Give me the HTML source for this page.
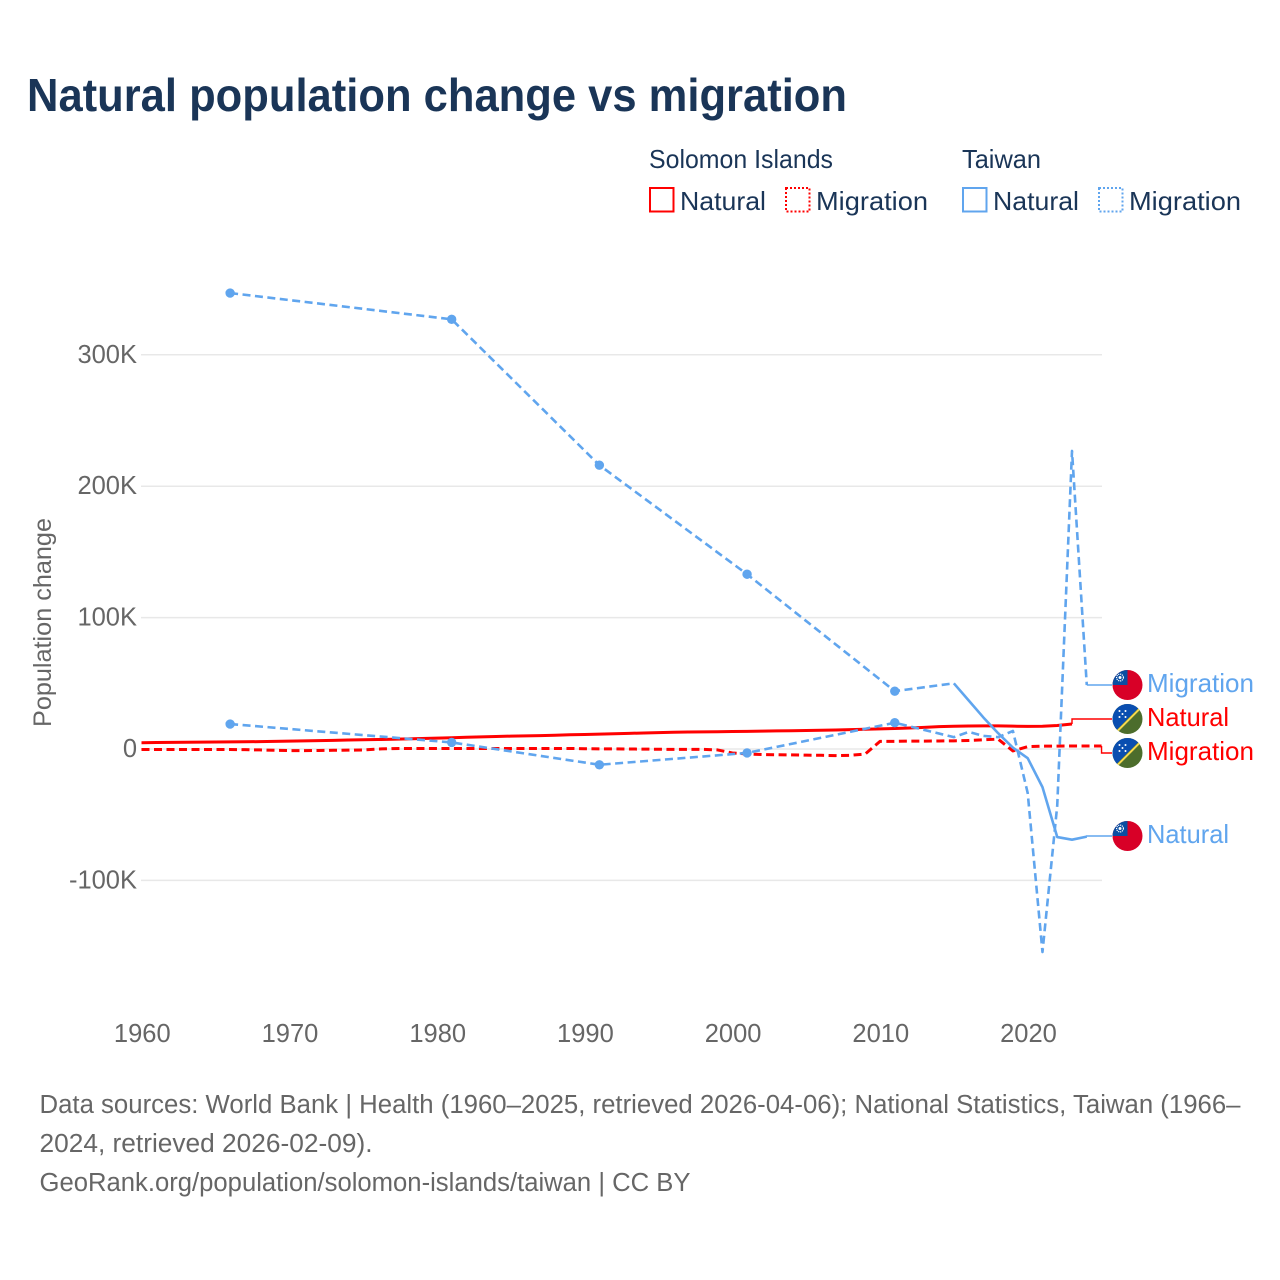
<!DOCTYPE html>
<html>
<head>
<meta charset="utf-8">
<title>Natural population change vs migration</title>
<style>
html,body{margin:0;padding:0;background:#fff;width:1280px;height:1280px;overflow:hidden}
svg{display:block}
text{font-family:"Liberation Sans",sans-serif}
</style>
</head>
<body>
<svg id="chart" xmlns="http://www.w3.org/2000/svg" width="1280" height="1280" viewBox="0 0 1280 1280">
  <defs>
    <clipPath id="flag-clip"><circle cx="0" cy="0" r="15"/></clipPath>
    <g id="flag-taiwan" clip-path="url(#flag-clip)">
      <rect x="-15" y="-15" width="30" height="30" fill="#d80027"/>
      <rect x="-15" y="-15" width="15" height="15" fill="#0a4ea2"/>
      <circle cx="-7.5" cy="-7.5" r="3.4" fill="none" stroke="#fff" stroke-width="1.2" stroke-dasharray="1.2 0.8"/>
      <circle cx="-7.5" cy="-7.5" r="1.5" fill="#fff"/>
    </g>
    <g id="flag-solomon" clip-path="url(#flag-clip)">
      <rect x="-15" y="-15" width="30" height="30" fill="#4c6d2c"/>
      <polygon points="-15,-15 15,-15 -15,15" fill="#0a4eb0"/>
      <line x1="-13" y1="15" x2="15" y2="-13" stroke="#f5d94e" stroke-width="2"/>
      <circle cx="-8" cy="-8" r="1" fill="#fff"/>
      <circle cx="-2" cy="-8" r="1" fill="#fff"/>
      <circle cx="-5" cy="-5" r="1" fill="#fff"/>
      <circle cx="-8" cy="-2" r="1" fill="#fff"/>
      <circle cx="-2" cy="-2" r="1" fill="#fff"/>
    </g>
  </defs>

  <text x="27" y="111" font-size="46" font-weight="700" fill="#1a3557" textLength="820" lengthAdjust="spacingAndGlyphs">Natural population change vs migration</text>

  <g font-size="26" fill="#1a3557">
    <text x="649" y="168" textLength="184" lengthAdjust="spacingAndGlyphs">Solomon Islands</text>
    <text x="962" y="168" textLength="79" lengthAdjust="spacingAndGlyphs">Taiwan</text>
    <g>
      <rect x="650" y="188" width="23.5" height="23.5" fill="none" stroke="#ff0000" stroke-width="2"/>
      <text x="680" y="210" textLength="86" lengthAdjust="spacingAndGlyphs">Natural</text>
    </g>
    <g>
      <rect x="786" y="188" width="23.5" height="23.5" fill="none" stroke="#ff0000" stroke-width="2" stroke-dasharray="2 2"/>
      <text x="816" y="210" textLength="112" lengthAdjust="spacingAndGlyphs">Migration</text>
    </g>
    <g>
      <rect x="963" y="188" width="23.5" height="23.5" fill="none" stroke="#60a5ee" stroke-width="2"/>
      <text x="993" y="210" textLength="86" lengthAdjust="spacingAndGlyphs">Natural</text>
    </g>
    <g>
      <rect x="1099" y="188" width="23.5" height="23.5" fill="none" stroke="#60a5ee" stroke-width="2" stroke-dasharray="2 2"/>
      <text x="1129" y="210" textLength="112" lengthAdjust="spacingAndGlyphs">Migration</text>
    </g>
  </g>

  <text transform="translate(51,622.5) rotate(-90)" text-anchor="middle" font-size="25" fill="#666666" textLength="209" lengthAdjust="spacingAndGlyphs">Population change</text>

  <g id="grid-layer"></g>
  <g id="tick-layer"></g>
  <g id="series-layer"></g>

  <g font-size="26">
    <use href="#flag-taiwan" x="1127.5" y="685"/>
    <text x="1147" y="692" fill="#60a5ee" textLength="107" lengthAdjust="spacingAndGlyphs">Migration</text>
    <use href="#flag-solomon" x="1127.5" y="719"/>
    <text x="1147" y="726" fill="#ff0000" textLength="82" lengthAdjust="spacingAndGlyphs">Natural</text>
    <use href="#flag-solomon" x="1127.5" y="753"/>
    <text x="1147" y="760" fill="#ff0000" textLength="107" lengthAdjust="spacingAndGlyphs">Migration</text>
    <use href="#flag-taiwan" x="1127.5" y="836"/>
    <text x="1147" y="843" fill="#60a5ee" textLength="82" lengthAdjust="spacingAndGlyphs">Natural</text>
  </g>

  <g font-size="25.5" fill="#666666">
    <text x="39.5" y="1113" textLength="1201" lengthAdjust="spacingAndGlyphs">Data sources: World Bank | Health (1960–2025, retrieved 2026-04-06); National Statistics, Taiwan (1966–</text>
    <text x="39.5" y="1152" textLength="333" lengthAdjust="spacingAndGlyphs">2024, retrieved 2026-02-09).</text>
    <text x="39.5" y="1191" textLength="651" lengthAdjust="spacingAndGlyphs">GeoRank.org/population/solomon-islands/taiwan | CC BY</text>
  </g>
</svg>
<script>
const xTicks = [1960, 1970, 1980, 1990, 2000, 2010, 2020];
const yTicks = [-100, 0, 100, 200, 300];
const yTickLabels = ['-100K', '0', '100K', '200K', '300K'];

const solomonStartYear = 1960;
const solomonNatural = [
  4.8,4.9,5.0,5.1,5.2,5.3,5.4,5.5,5.6,5.8,
  6.0,6.2,6.4,6.6,6.8,7.0,7.2,7.4,7.7,8.0,
  8.3,8.6,8.9,9.2,9.5,9.8,10.0,10.2,10.5,10.8,
  11.0,11.3,11.6,11.9,12.2,12.5,12.7,12.9,13.0,13.1,
  13.3,13.4,13.6,13.8,13.9,14.1,14.3,14.5,14.7,15.0,
  15.3,15.6,16.0,16.5,17.0,17.3,17.5,17.6,17.6,17.4,
  17.2,17.3,17.9,19.0
];
const solomonMigration = [
  -0.4,-0.4,-0.4,-0.4,-0.4,-0.4,-0.4,-0.5,-0.7,-1.0,
  -1.2,-1.2,-1.1,-1.0,-0.9,-0.7,0.0,0.3,0.4,0.4,
  0.4,0.4,0.4,0.4,0.4,0.4,0.4,0.4,0.4,0.4,
  0.2,0.1,0.1,0.0,-0.1,-0.2,-0.3,-0.3,-0.3,-0.7,
  -3.0,-3.8,-4.2,-4.4,-4.5,-4.7,-4.8,-5.0,-4.8,-3.8,
  5.8,5.8,6.0,6.0,6.1,6.2,6.5,7.0,7.5,-1.5,
  1.8,2.2,2.2,2.3,2.3,2.3
];
const taiwanYears = [1966,1981,1991,2001,2011,2015,2016,2017,2018,2019,2020,2021,2022,2023,2024];
const taiwanNatural = [347,327,216,133,44,50,37,24,12,1,-7,-29,-67,-69,-66.7];
const taiwanMigration = [19,5,-12,-3,20,9,13,10,9,13.7,-33.5,-154.5,-43,226.8,48.7];

const labelY = {taiwanMigration: 685, solomonNatural: 719, solomonMigration: 753, taiwanNatural: 836};

const NS = 'http://www.w3.org/2000/svg';
const RED = '#ff0000';
const BLUE = '#60a5ee';
const DASH = '8 4.5';
const LABEL_X = 1112;

function xScale(year) { return 141.5 + (year - 1960) * 14.77; }
function yScale(k) { return 749 - k * 1.314; }

function make(tag, attrs, parent) {
  const el = document.createElementNS(NS, tag);
  for (const key in attrs) el.setAttribute(key, attrs[key]);
  parent.appendChild(el);
  return el;
}
function seq(start, n) {
  const out = [];
  for (let i = 0; i < n; i++) out.push(start + i);
  return out;
}
function pathFrom(pts) {
  return pts.map((p, i) => (i ? 'L' : 'M') + xScale(p[0]).toFixed(2) + ' ' + yScale(p[1]).toFixed(2)).join(' ');
}

const gridLayer = document.getElementById('grid-layer');
const tickLayer = document.getElementById('tick-layer');
const seriesLayer = document.getElementById('series-layer');

yTicks.forEach((t, i) => {
  const line = make('line', {x1: 141, x2: 1102, y1: yScale(t), y2: yScale(t), stroke: '#e8e8e8', 'stroke-width': 1.5}, gridLayer);
  
  
  const label = make('text', {x: 137, y: yScale(t) + 8, 'text-anchor': 'end', 'font-size': 25.5, fill: '#666666'}, tickLayer);
  
  
  label.textContent = yTickLabels[i];
});
xTicks.forEach(t => {
  const label = make('text', {x: xScale(t) + 0.8, y: 1042, 'text-anchor': 'middle', 'font-size': 25.5, fill: '#666666'}, tickLayer);
  
  
  label.textContent = String(t);
});

function drawSeries(name, years, values, color, width, alwaysDashed, endLabelY) {
  const group = make('g', {}, seriesLayer);
  
  
  const pts = years.map((y, i) => [y, values[i]]);
  let run = [pts[0]];
  let runDashed = alwaysDashed || (pts[1][0] - pts[0][0] > 1);
  function flush() {
    const path = make('path', {d: pathFrom(run), fill: 'none', stroke: color, 'stroke-width': width, 'stroke-linejoin': 'round'}, group);
    
    
    if (runDashed) path.setAttribute('stroke-dasharray', DASH);
  }
  for (let i = 1; i < pts.length; i++) {
    const dashed = alwaysDashed || (pts[i][0] - pts[i - 1][0] > 1);
    if (dashed !== runDashed) {
      flush();
      run = [pts[i - 1]];
      runDashed = dashed;
    }
    run.push(pts[i]);
  }
  flush();
  pts.forEach((p, i) => {
    const prevGap = i === 0 || p[0] - pts[i - 1][0] > 1;
    const nextGap = i === pts.length - 1 || pts[i + 1][0] - p[0] > 1;
    if (prevGap && nextGap) {
      const dot = make('circle', {cx: xScale(p[0]), cy: yScale(p[1]), r: 4.7, fill: color}, group);
      
      
    }
  });
  const last = pts[pts.length - 1];
  const lx = xScale(last[0]);
  const ly = yScale(last[1]);
  const connector = make('path', {d: 'M' + lx + ' ' + ly + ' L' + lx + ' ' + endLabelY + ' L' + LABEL_X + ' ' + endLabelY, fill: 'none', stroke: color, 'stroke-width': 1.4}, group);
  
  
}

drawSeries('solomon-migration', seq(solomonStartYear, solomonMigration.length), solomonMigration, RED, 3, true, labelY.solomonMigration);
drawSeries('solomon-natural', seq(solomonStartYear, solomonNatural.length), solomonNatural, RED, 3, false, labelY.solomonNatural);
drawSeries('taiwan-migration', taiwanYears, taiwanMigration, BLUE, 2.6, true, labelY.taiwanMigration);
drawSeries('taiwan-natural', taiwanYears, taiwanNatural, BLUE, 2.6, false, labelY.taiwanNatural);
</script>
</body>
</html>
